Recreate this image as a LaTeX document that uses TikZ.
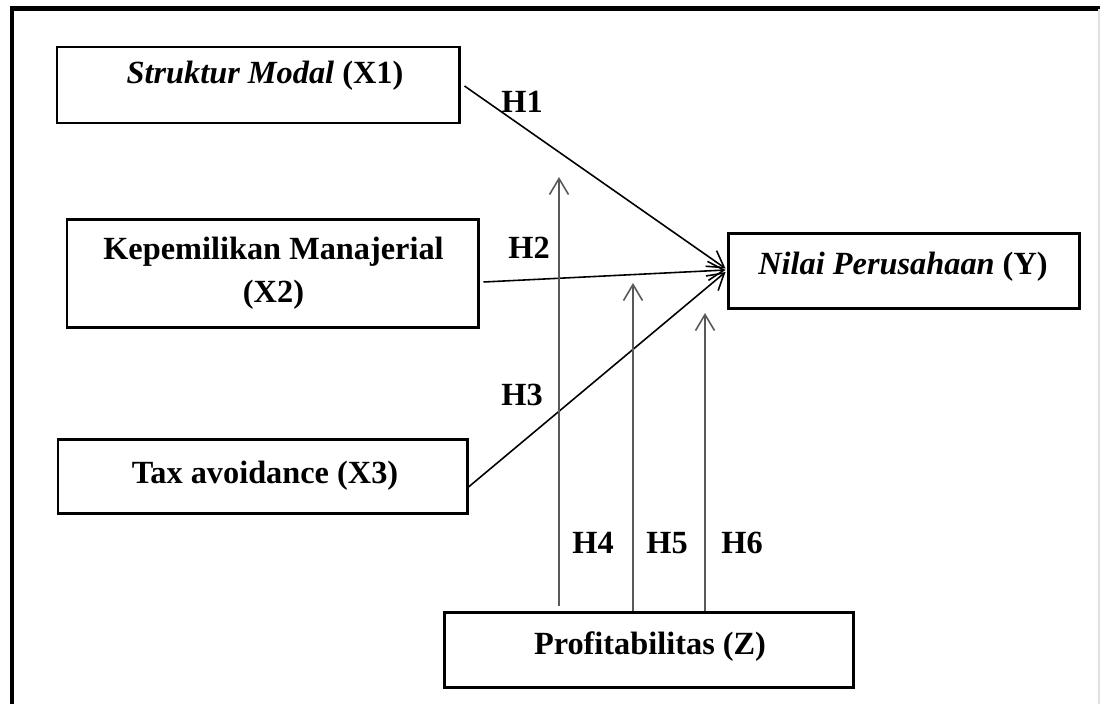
\documentclass[tikz,border=0pt]{standalone}
\usepackage{fontspec}
\setmainfont{Liberation Serif}
\usetikzlibrary{arrows.meta}

\tikzset{
  box/.style={draw,line width=0.85pt,minimum width=#1,inner sep=0pt},
  lbl/.style={anchor=base,font=\fontsize{9.2}{12}\selectfont\bfseries,align=center,inner sep=0pt},
  hyp/.style={anchor=base,font=\fontsize{9.2}{12}\selectfont\bfseries,inner sep=0pt},
  arr/.style={line width=0.45pt,-{Straight Barb[length=0.16cm,width=0.19cm]}},
  varr/.style={arr,draw=black!65}
}

\begin{document}
\begin{tikzpicture}[x=1cm,y=-1cm]
  \useasboundingbox (0,0) rectangle (11,7.04);
  % frame
  \draw[line width=1.4pt] (0.12,7.04) -- (0.12,0.085) -- (11,0.085);
  \draw[black!12,line width=0.5pt] (10.99,0.085) -- (10.99,7.04);

  % boxes
  \node[box=4.02cm,minimum height=0.76cm] (x1) at (2.58,0.85) {};
  \node[box=4.11cm,minimum height=1.08cm] (x2) at (2.725,2.73) {};
  \node[box=4.09cm,minimum height=0.74cm] (x3) at (2.625,4.76) {};
  \node[box=3.51cm,minimum height=0.75cm] (y) at (9.035,2.705) {};
  \node[box=4.09cm,minimum height=0.75cm] (z) at (6.485,6.495) {};

  % texts
  \node[lbl] (x1t) at (2.65,0.83) {\textit{Struktur Modal} (X1)};
  \node[lbl] (x2t) at (2.735,3.02) {Kepemilikan Manajerial\\(X2)};
  \node[lbl] (x3t) at (2.65,4.83) {Tax avoidance (X3)};
  \node[lbl] (yt) at (9.03,2.74) {\textit{Nilai Perusahaan} (Y)};
  \node[lbl] (zt) at (6.50,6.54) {Profitabilitas (Z)};

  % hypotheses
  \node[hyp] (h1) at (5.22,1.12) {H1};
  \node[hyp] (h2) at (5.29,2.58) {H2};
  \node[hyp] (h3) at (5.22,4.05) {H3};
  \node[hyp] (h4) at (5.93,5.53) {H4};
  \node[hyp] (h5) at (6.67,5.53) {H5};
  \node[hyp] (h6) at (7.42,5.53) {H6};

  % direct effects
  \draw[arr] ([shift={(0.04,0.01)}]x1.east) -- ([shift={(-0.01,-0.02)}]y.west);
  \draw[arr] ([shift={(0.04,0.09)}]x2.east) -- ([shift={(-0.01,-0.005)}]y.west);
  \draw[arr] ([shift={(0.00,0.11)}]x3.east) -- ([shift={(-0.01,0.015)}]y.west);

  % moderation
  \coordinate (t4) at (5.59,1.77);
  \coordinate (t5) at (6.33,2.83);
  \coordinate (t6) at (7.05,3.13);
  \draw[varr] ([yshift=0.05cm]t4 |- z.north) -- (t4);
  \draw[varr] (t5 |- z.north) -- (t5);
  \draw[varr] (t6 |- z.north) -- (t6);
\end{tikzpicture}
\end{document}
